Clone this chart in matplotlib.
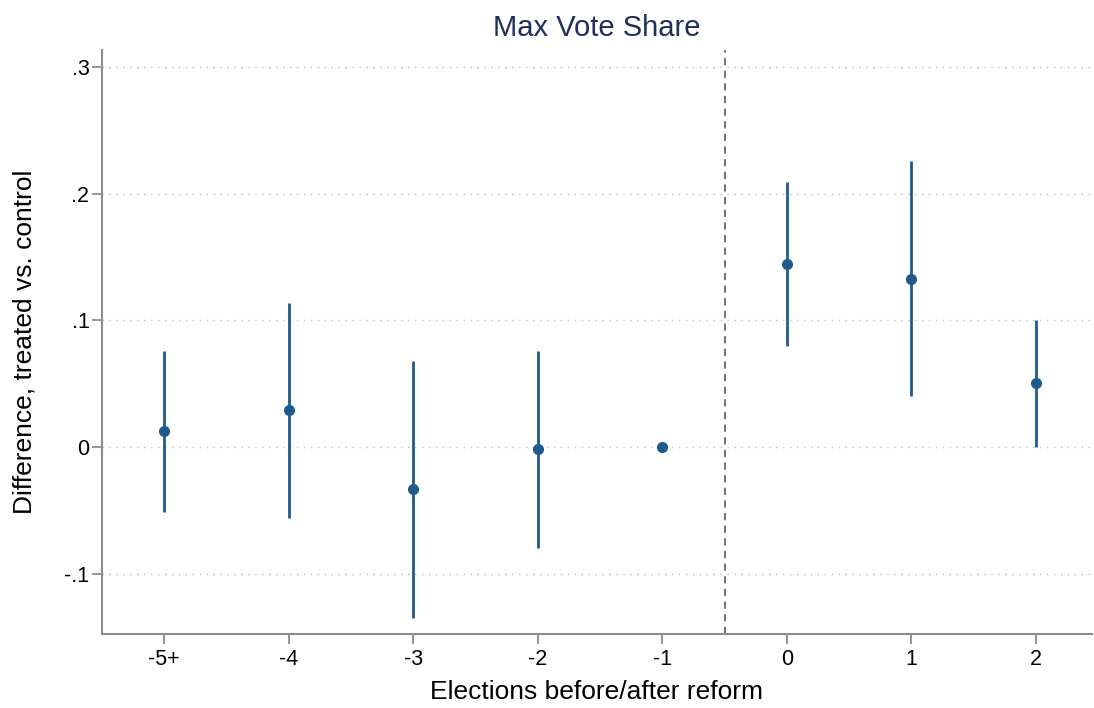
import matplotlib
matplotlib.use("Agg")
import matplotlib.pyplot as plt

plt.rcParams['font.family'] = ['Liberation Sans', 'DejaVu Sans']

# event-study estimates
labels = ['-5+', '-4', '-3', '-2', '-1', '0', '1', '2']
coef = [0.0126, 0.029, -0.033, -0.0016, 0.0, 0.1444, 0.133, 0.0505]
ci_low = [-0.051, -0.056, -0.135, -0.080, 0.0, 0.080, 0.040, 0.000]
ci_high = [0.0758, 0.114, 0.068, 0.076, 0.0, 0.209, 0.2257, 0.100]
yticks = [-0.1, 0, 0.1, 0.2, 0.3]
ytick_labels = ['-.1', '0', '.1', '.2', '.3']

color = '#1f5a8c'
grey = '#8c8c8c'

fig = plt.figure(figsize=(10.94, 7.08), dpi=100)
ax = fig.add_axes([0.0932, 0.1045, 0.9048, 0.8245])

x = list(range(len(labels)))
ax.vlines(x, ci_low, ci_high, color=color, lw=2)
ax.plot(x, coef, 'o', color=color, ms=7, zorder=3)

ax.axvline(4.5, color='#666666', ls=(0, (4, 3)), lw=1.3)

ax.set_xlim(-0.5, 7.45)
ax.set_ylim(-0.1476, 0.3133)
ax.set_xticks(x)
ax.set_xticklabels(labels)
ax.set_yticks(yticks)
ax.set_yticklabels(ytick_labels)
ax.tick_params(axis='both', labelsize=15.5, color=grey, length=7, width=1.3, pad=4)
ax.tick_params(axis='y', pad=2)
ax.yaxis.grid(True, ls=(0, (1, 4)), color='#bbbbbb', lw=1)
ax.set_axisbelow(True)

for s in ['top', 'right']:
    ax.spines[s].set_visible(False)
for s in ['left', 'bottom']:
    ax.spines[s].set_color(grey)
    ax.spines[s].set_linewidth(1.5)

ax.set_title('Max Vote Share', fontsize=21, color='#1e2f5a', pad=10)
ax.set_xlabel('Elections before/after reform', fontsize=19, labelpad=7)
ax.set_ylabel('Difference, treated vs. control', fontsize=19, labelpad=20)

fig.savefig('out.png', dpi=100)
